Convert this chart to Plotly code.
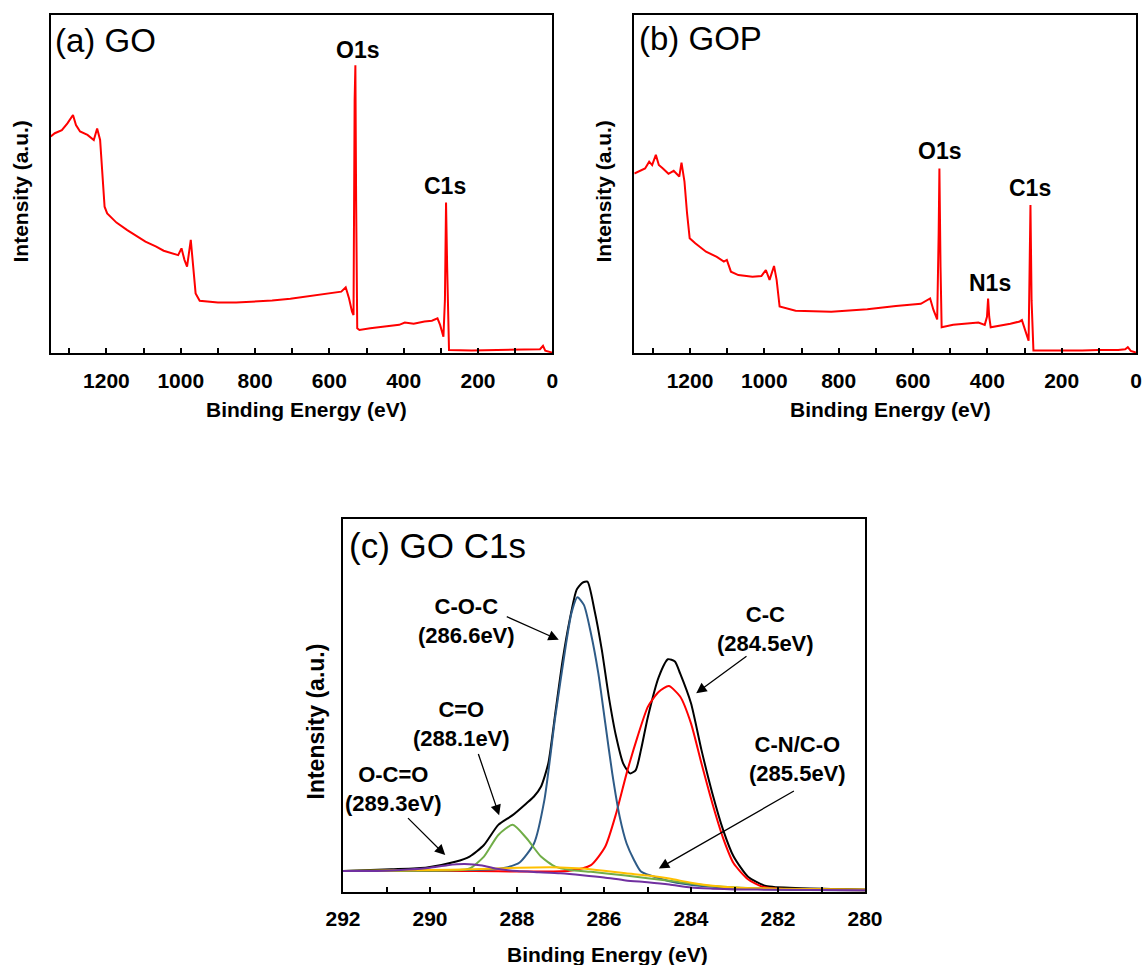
import plotly.graph_objects as go

W, H = 1143, 965
FONT = "Liberation Sans, Arial, sans-serif"

# ---------------- Panel (a): GO survey spectrum ----------------
go_be = [1350, 1339, 1320, 1305, 1290, 1282, 1271, 1251, 1234, 1225, 1217, 1210, 1205, 1198,
         1173, 1144, 1095, 1066, 1046, 1007, 998, 990, 983, 973, 966, 960, 949, 900, 851,
         802, 754, 705, 656, 607, 568, 556, 547, 539, 535, 532, 530, 528, 525, 519, 490,
         412, 397, 373, 344, 324, 309, 302, 293, 289, 286, 283, 278, 217, 119, 33, 25, 19, 0]
go_int = [64.0, 65.0, 65.9, 67.9, 70.4, 67.4, 65.5, 64.5, 63.0, 66.4, 63.0, 53.1, 43.3, 41.3,
          38.6, 36.4, 33.0, 31.5, 30.3, 29.0, 31.0, 27.6, 25.6, 33.5, 25.6, 17.7, 15.5, 15.0, 15.0,
          15.2, 15.6, 16.1, 16.9, 17.5, 18.2, 19.5, 16.2, 12.3, 11.3, 74.8, 85.1, 45.3, 7.4, 6.9, 7.4,
          8.4, 9.1, 8.7, 9.4, 9.6, 10.3, 8.4, 4.9, 15.7, 44.5, 25.6, 1.0, 0.8, 1.0, 1.2, 2.2, 0.8, 0.2]

# ---------------- Panel (b): GOP survey spectrum ----------------
gop_be = [1350, 1336, 1321, 1310, 1302, 1292, 1284, 1273, 1258, 1244, 1229, 1223, 1215, 1208,
          1201, 1186, 1157, 1128, 1109, 1101, 1090, 1070, 1032, 1008, 996, 986, 974, 967, 959,
          916, 820, 723, 646, 579, 554, 545, 535, 531, 529, 526, 523, 492, 453, 424, 407, 401,
          398, 395, 391, 366, 338, 313, 307, 297, 289, 285, 284, 281, 276, 145, 101, 48, 29,
          22, 14, 0]
gop_int = [53.1, 53.9, 54.6, 56.6, 55.6, 58.6, 55.6, 54.6, 53.0, 53.9, 52.2, 56.3, 50.7, 41.3,
           34.0, 32.5, 30.0, 28.5, 27.1, 27.6, 24.1, 23.1, 22.6, 22.8, 24.6, 21.7, 25.8, 21.7, 13.8,
           12.6, 12.3, 13.0, 14.0, 14.6, 16.2, 12.8, 10.0, 35.4, 54.6, 25.6, 7.7, 8.4, 8.7, 9.1, 8.4, 10.8,
           16.2, 10.8, 7.7, 8.1, 8.7, 9.4, 9.8, 6.4, 3.7, 35.4, 43.8, 15.7, 0.8, 0.8, 1.0, 1.0, 1.2,
           1.8, 0.7, 0.2]

survey_tick_vals = [1300, 1200, 1100, 1000, 900, 800, 700, 600, 500, 400, 300, 200, 100, 0]
survey_tick_text = ["", "1200", "", "1000", "", "800", "", "600", "", "400", "", "200", "", "0"]

# ---------------- Panel (c): GO C1s high-resolution ----------------
env_be = [292.0, 290.89, 290.07, 289.42, 289.09, 288.76, 288.43, 288.10, 287.78, 287.61, 287.45,
          287.28, 287.12, 286.95, 286.79, 286.63, 286.50, 286.38, 286.22, 286.05, 285.89, 285.72,
          285.56, 285.40, 285.27, 285.15, 284.99, 284.74, 284.53, 284.37, 284.25, 284.00, 283.76,
          283.51, 283.26, 283.02, 282.69, 282.28, 281.46, 280.0]
env_int = [5.6, 6.1, 6.6, 8.1, 9.5, 12.6, 18.0, 20.6, 23.8, 25.6, 28.2,
           34.5, 47.9, 62.2, 72.9, 81.0, 82.9, 83.2, 75.6, 64.9, 52.4, 41.6,
           34.5, 31.8, 32.7, 38.1, 47.0, 57.7, 62.4, 61.8, 58.6, 50.6, 38.1,
           26.5, 16.6, 9.5, 4.1, 1.6, 1.0, 0.7]

coc_be = [292.0, 289.0, 288.5, 288.27, 287.94, 287.61, 287.37, 287.12, 286.87, 286.75, 286.61,
          286.46, 286.30, 286.13, 285.97, 285.81, 285.64, 285.48, 285.31, 285.15, 284.74, 284.33,
          283.5, 282.0, 280.0]
coc_int = [5.6, 5.9, 6.1, 6.5, 7.9, 13.0, 24.7, 47.0, 66.7, 74.7, 79.0,
           76.9, 69.3, 58.6, 45.2, 31.8, 20.2, 13.0, 8.6, 5.5, 3.7, 2.5,
           1.4, 0.7, 0.5]

cc_be = [292.0, 289.0, 286.79, 286.30, 285.97, 285.72, 285.48, 285.23, 284.99, 284.74, 284.51,
         284.25, 284.00, 283.76, 283.51, 283.26, 283.02, 282.69, 282.36, 281.87, 280.0]
cc_int = [5.6, 5.6, 5.7, 7.2, 12.2, 21.1, 31.8, 41.6, 49.7, 53.7, 55.2,
          52.4, 45.2, 34.5, 23.8, 14.4, 7.7, 3.4, 1.4, 0.8, 0.5]

co_be = [292.0, 290.0, 289.4, 289.09, 288.76, 288.43, 288.10, 287.78, 287.45, 287.12, 286.79,
         286.3, 285.5, 284.5, 283.5, 282.0, 280.0]
co_int = [5.6, 5.7, 5.8, 6.3, 9.5, 15.3, 18.0, 14.4, 9.5, 6.8, 5.9,
          5.4, 4.4, 3.0, 1.6, 0.8, 0.5]

cn_be = [292.0, 290.0, 289.0, 288.27, 287.6, 287.0, 286.5, 286.0, 285.5, 285.0, 284.5, 284.0,
         283.5, 283.0, 282.0, 280.0]
cn_int = [5.6, 5.9, 6.1, 6.4, 6.6, 6.6, 6.3, 5.7, 5.0, 4.4, 3.6, 2.5,
          1.7, 1.2, 0.9, 0.7]

oco_be = [292.0, 291.0, 290.5, 290.0, 289.6, 289.2, 288.8, 288.5, 288.0, 287.5, 287.0, 286.5,
          286.0, 285.5, 285.0, 284.5, 284.0, 283.5, 283.0, 282.0, 280.0]
oco_int = [5.6, 5.7, 6.0, 6.5, 7.2, 7.5, 7.1, 6.3, 5.6, 5.3, 5.0, 4.5,
           3.9, 3.1, 2.6, 2.0, 1.2, 0.9, 0.7, 0.6, 0.5]

c1s_tick_vals = [292, 291, 290, 289, 288, 287, 286, 285, 284, 283, 282, 281, 280]
c1s_tick_text = ["292", "", "290", "", "288", "", "286", "", "284", "", "282", "", "280"]

# component labels: text position, arrow tail, arrow head (eV, intensity)
c1s_labels = ["C-O-C<br>(286.6eV)", "C-C<br>(284.5eV)", "C=O<br>(288.1eV)",
              "O-C=O<br>(289.3eV)", "C-N/C-O<br>(285.5eV)"]
c1s_text_x = [289.15, 282.28, 289.28, 290.83, 281.56]
c1s_text_y = [72.7, 70.4, 45.0, 27.7, 35.6]
c1s_tail_x = [288.27, 282.69, 288.90, 290.54, 281.60]
c1s_tail_y = [74.0, 63.5, 37.4, 20.2, 27.3]
c1s_head_x = [287.04, 283.88, 288.41, 289.65, 284.74]
c1s_head_y = [67.6, 53.3, 20.6, 9.9, 6.3]

# ---------------- geometry (pixel boxes) ----------------
box_a = (50.7, 552.3, 14.7, 353.3)
box_b = (634.3, 1136.0, 14.7, 353.3)
box_c = (343.0, 865.0, 519.0, 892.0)


def xdom(b):
    return [b[0] / W, b[1] / W]


def ydom(b):
    return [1 - b[3] / H, 1 - b[2] / H]


fig = go.Figure()

fig.add_trace(go.Scatter(x=go_be, y=go_int, mode="lines", line=dict(color="#FF0000", width=2),
                         xaxis="x", yaxis="y", showlegend=False))
fig.add_trace(go.Scatter(x=gop_be, y=gop_int, mode="lines", line=dict(color="#FF0000", width=2),
                         xaxis="x2", yaxis="y2", showlegend=False))

c_series = [
    (env_be, env_int, "#000000"),
    (cc_be, cc_int, "#FF0000"),
    (coc_be, coc_int, "#2E5B87"),
    (co_be, co_int, "#70AD47"),
    (cn_be, cn_int, "#FFC000"),
    (oco_be, oco_int, "#7030A0"),
]
for xs, ys, col in c_series:
    fig.add_trace(go.Scatter(x=xs, y=ys, mode="lines",
                             line=dict(color=col, width=2, shape="spline", smoothing=0.6),
                             xaxis="x3", yaxis="y3", showlegend=False))

tickfont = dict(family=FONT, size=21, color="black", weight="bold")


def xaxis_cfg(b, rng, tv, tt):
    return dict(domain=xdom(b), range=rng, showline=True, linewidth=2, linecolor="black",
                mirror=True, ticks="inside", ticklen=5, tickwidth=2, tickcolor="black",
                tickmode="array", tickvals=tv, ticktext=tt, tickfont=tickfont,
                ticklabelstandoff=7,
                showgrid=False, zeroline=False, automargin=False)


def yaxis_cfg(b, anchor):
    return dict(domain=ydom(b), range=[0, 100], showline=True, linewidth=2, linecolor="black",
                mirror=True, ticks="", showticklabels=False, showgrid=False, zeroline=False,
                anchor=anchor, automargin=False)


fig.update_layout(
    width=W, height=H, margin=dict(l=0, r=0, t=0, b=0),
    paper_bgcolor="white", plot_bgcolor="white",
    xaxis=dict(xaxis_cfg(box_a, [1350, 0], survey_tick_vals, survey_tick_text), anchor="y"),
    yaxis=yaxis_cfg(box_a, "x"),
    xaxis2=dict(xaxis_cfg(box_b, [1350, 0], survey_tick_vals, survey_tick_text), anchor="y2"),
    yaxis2=yaxis_cfg(box_b, "x2"),
    xaxis3=dict(xaxis_cfg(box_c, [292, 280], c1s_tick_vals, c1s_tick_text), anchor="y3"),
    yaxis3=yaxis_cfg(box_c, "x3"),
)

ann = []


def bold(s):
    return dict(family=FONT, size=s, color="black", weight="bold")


def reg(s):
    return dict(family=FONT, size=s, color="black")


# panel labels
ann.append(dict(text="(a) GO", x=53 / W, y=1 - 40 / H, xref="paper", yref="paper",
                xanchor="left", yanchor="middle", showarrow=False, font=reg(33)))
ann.append(dict(text="(b) GOP", x=637 / W, y=1 - 39 / H, xref="paper", yref="paper",
                xanchor="left", yanchor="middle", showarrow=False, font=reg(33)))
ann.append(dict(text="(c) GO C1s", x=347 / W, y=1 - 545 / H, xref="paper", yref="paper",
                xanchor="left", yanchor="middle", showarrow=False, font=reg(35)))

# axis titles
for xc, yc in [(306, 409), (890, 409), (607, 954)]:
    ann.append(dict(text="Binding Energy (eV)", x=xc / W, y=1 - yc / H, xref="paper", yref="paper",
                    xanchor="center", yanchor="middle", showarrow=False, font=bold(21)))
for xc, yc, fs in [(20, 191.5, 21), (602.5, 192, 21), (315, 721.5, 23)]:
    ann.append(dict(text="Intensity (a.u.)", x=xc / W, y=1 - yc / H, xref="paper", yref="paper",
                    xanchor="center", yanchor="middle", textangle=-90, showarrow=False, font=bold(fs)))

# peak labels on survey spectra
for txt, xv, yv in [("O1s", 524, 89.6), ("C1s", 290, 49.4)]:
    ann.append(dict(text=txt, x=xv, y=yv, xref="x", yref="y", showarrow=False, font=bold(23)))
for txt, xv, yv in [("O1s", 530, 59.8), ("N1s", 392, 20.7), ("C1s", 286, 48.7)]:
    ann.append(dict(text=txt, x=xv, y=yv, xref="x2", yref="y2", showarrow=False, font=bold(23)))

# C1s component labels and arrows
for i, lab in enumerate(c1s_labels):
    ann.append(dict(text=lab, x=c1s_text_x[i], y=c1s_text_y[i], xref="x3", yref="y3",
                    showarrow=False, font=bold(22)))
    ann.append(dict(text="", x=c1s_head_x[i], y=c1s_head_y[i], xref="x3", yref="y3",
                    ax=c1s_tail_x[i], ay=c1s_tail_y[i], axref="x3", ayref="y3",
                    showarrow=True, arrowhead=2, arrowsize=1.6, arrowwidth=1.3,
                    arrowcolor="black", standoff=0, startstandoff=0))

fig.update_layout(annotations=ann)
fig.write_html("out.html",
               config={"displayModeBar": False, "staticPlot": True},
               post_script="document.body.style.margin='0';document.body.style.padding='0';"
                           "document.body.style.overflow='hidden';")
